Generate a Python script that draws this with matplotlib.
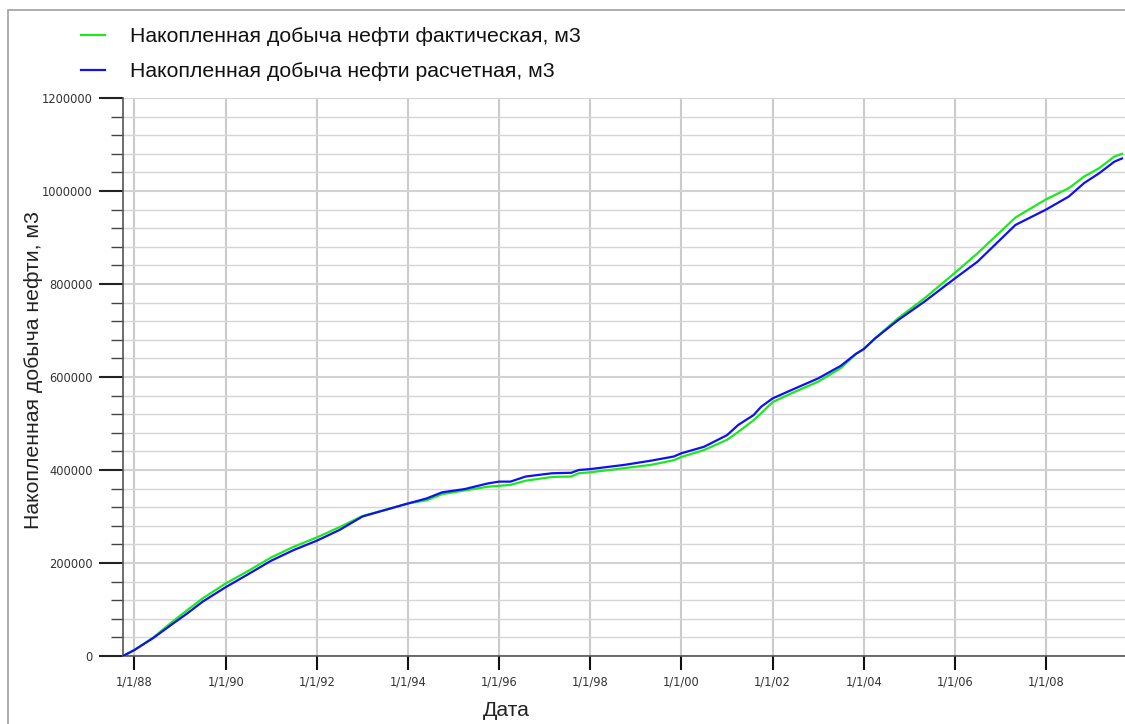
import matplotlib
matplotlib.use("Agg")
import matplotlib.pyplot as plt
from matplotlib.patches import Rectangle
from matplotlib.ticker import MultipleLocator, FuncFormatter
import pandas as pd

# Cumulative oil production, m3 (actual)
fact_dates = [
    "1987-10", "1988-01", "1988-06", "1988-11", "1989-03", "1989-07", "1990-01",
    "1990-07", "1991-01", "1991-07", "1992-01", "1992-07", "1993-01", "1993-07",
    "1994-01", "1994-06", "1994-10", "1995-04", "1995-10", "1996-01", "1996-04",
    "1996-08", "1997-03", "1997-08", "1997-10", "1998-01", "1998-10", "1999-05",
    "1999-11", "2000-01", "2000-07", "2001-01", "2001-04", "2001-08", "2001-10",
    "2002-01", "2002-06", "2003-01", "2003-07", "2003-11", "2004-01", "2004-04",
    "2004-10", "2005-05", "2006-01", "2006-07", "2007-05", "2008-01", "2008-07",
    "2008-11", "2009-03", "2009-07", "2009-09",
]
fact_values = [
    0, 13000, 40000, 74000, 99000, 124000, 156000,
    183000, 212000, 235000, 255000, 277000, 301000, 314000,
    328000, 335000, 348000, 356000, 364000, 366000, 368000,
    377000, 385000, 386000, 393000, 395000, 404000, 411000,
    421000, 428000, 443000, 465000, 482000, 507000, 522000,
    546000, 565000, 590000, 619000, 650000, 660000, 683000,
    726000, 769000, 824000, 866000, 943000, 982000, 1006000,
    1031000, 1049000, 1074000, 1080000,
]

# Cumulative oil production, m3 (calculated)
calc_dates = fact_dates
calc_values = [
    0, 13000, 39000, 69000, 92000, 117000, 148000,
    176000, 205000, 228000, 248000, 271000, 300000, 314000,
    328000, 339000, 352000, 359000, 371000, 375000, 375000,
    386000, 393000, 394000, 400000, 402000, 411000, 420000,
    429000, 436000, 450000, 475000, 497000, 518000, 536000,
    554000, 572000, 597000, 624000, 650000, 660000, 683000,
    722000, 762000, 812000, 848000, 927000, 960000, 988000,
    1017000, 1038000, 1063000, 1070000,
]

x_ticks = ["1988-01-01", "1990-01-01", "1992-01-01", "1994-01-01", "1996-01-01",
           "1998-01-01", "2000-01-01", "2002-01-01", "2004-01-01", "2006-01-01",
           "2008-01-01"]
x_range = ["1987-10-01", "2009-09-25"]

label_fact = "Накопленная добыча нефти фактическая, м3"
label_calc = "Накопленная добыча нефти расчетная, м3"
y_title = "Накопленная добыча нефти, м3"
x_title = "Дата"

W, H = 1125, 724
fig = plt.figure(figsize=(W / 100, H / 100), dpi=100)
fig.patch.set_facecolor("white")

# outer frame
fig.patches.append(Rectangle((8 / W, -0.05), 1.2, 1 - 10 / H + 0.05,
                             transform=fig.transFigure, fill=False,
                             edgecolor="#a0a0a0", linewidth=1.2))

ax = fig.add_axes([123 / W, 1 - 656 / H, (W - 123) / W, (656 - 98) / H])
ax.set_facecolor("white")

fd = pd.to_datetime(fact_dates)
cd = pd.to_datetime(calc_dates)
ax.plot(fd, fact_values, color="#1ee81e", linewidth=1.6, label=label_fact, zorder=3)
ax.plot(cd, calc_values, color="#1010f0", linewidth=1.6, label=label_calc, zorder=4)

ax.set_xlim(pd.Timestamp(x_range[0]), pd.Timestamp(x_range[1]))
ax.set_ylim(0, 1200000)

tick_dt = pd.to_datetime(x_ticks)
ax.set_xticks(tick_dt)
ax.set_xticklabels([f"{d.month}/{d.day}/{d.year % 100:02d}" for d in tick_dt])

ax.yaxis.set_major_locator(MultipleLocator(200000))
ax.yaxis.set_minor_locator(MultipleLocator(40000))
ax.yaxis.set_major_formatter(FuncFormatter(lambda v, p: f"{int(v)}"))

ax.grid(True, axis="x", which="major", color="#cbcbcb", linewidth=1.5, zorder=0)
ax.grid(True, axis="y", which="major", color="#d2d2d2", linewidth=1.5, zorder=0)
ax.grid(True, axis="y", which="minor", color="#d6d6d6", linewidth=1.0, zorder=0)

for s in ("top", "right"):
    ax.spines[s].set_visible(False)
for s in ("left", "bottom"):
    ax.spines[s].set_color("#555555")
    ax.spines[s].set_linewidth(1.2)

ax.tick_params(axis="y", which="major", length=17, width=1.5, color="#222222",
               labelsize=8.3, labelcolor="#333333", pad=5)
ax.tick_params(axis="y", which="minor", length=9, width=1.0, color="#444444")
ax.tick_params(axis="x", which="major", length=10, width=1.5, color="#111111",
               labelsize=8.3, labelcolor="#333333", pad=4)

ax.set_ylabel(y_title, fontsize=15.3, family="Liberation Sans", color="#222222")
ax.yaxis.set_label_coords(-(123 - 43) / (W - 123), 0.513)
ax.set_xlabel(x_title, fontsize=15.3, family="Liberation Sans", color="#222222")
ax.xaxis.set_label_coords((506 - 123) / (W - 123), -(701 - 656) / (656 - 98))

leg = fig.legend(loc="upper left", bbox_to_anchor=(62 / W, 1 - 8 / H),
                 frameon=False, prop={"family": "Liberation Sans", "size": 15.3},
                 handlelength=1.1, handletextpad=1.2, labelspacing=0.75)
for t in leg.get_texts():
    t.set_color("#111111")

fig.savefig("out.png", dpi=100, facecolor="white")
